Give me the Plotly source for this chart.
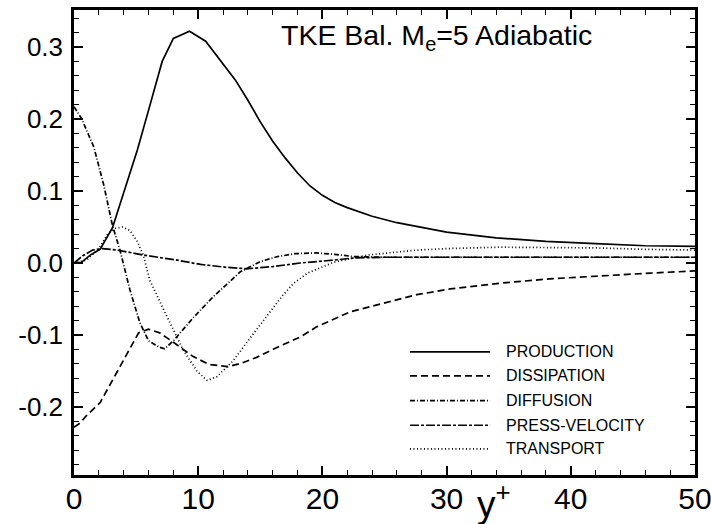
import plotly.graph_objects as go

# ---- data ----
prod_x = [0, 0.6, 1.3, 2.1, 3.1, 4.0, 5.1, 6.0, 7.1, 8.0, 9.3, 10.6, 12.0, 13.0, 14.0, 15.0,
          16.0, 17.0, 18.0, 19.0, 20.0, 21.0, 22.0, 24.0, 26.0, 28.0, 30.0, 34.0, 38.0, 42.0, 46.0, 50.0]
prod_y = [0.0, 0.001, 0.011, 0.019, 0.049, 0.097, 0.157, 0.212, 0.280, 0.312, 0.322, 0.308, 0.277,
          0.254, 0.226, 0.196, 0.169, 0.146, 0.125, 0.107, 0.094, 0.084, 0.077, 0.065, 0.056, 0.049,
          0.043, 0.035, 0.030, 0.027, 0.024, 0.023]

diss_x = [0, 0.5, 1.0, 2.1, 3.7, 5.2, 6.0, 6.9, 8.0, 9.6, 10.9, 12.4, 13.5, 14.7, 16.5, 18.3, 19.5,
          22.2, 24.9, 27.6, 30.3, 34.3, 38.3, 42.0, 46.4, 50.0]
diss_y = [-0.228, -0.222, -0.212, -0.194, -0.144, -0.097, -0.092, -0.097, -0.110, -0.130, -0.141,
          -0.144, -0.139, -0.131, -0.116, -0.102, -0.089, -0.068, -0.056, -0.044, -0.036, -0.028,
          -0.022, -0.018, -0.014, -0.011]

diff_x = [0, 0.6, 1.6, 2.4, 3.1, 3.7, 4.5, 5.3, 6.0, 6.9, 7.3, 8.0, 9.6, 11.2, 12.4, 13.4, 15.0,
          16.4, 17.8, 19.5, 21.0, 22.5, 25.0, 30.0, 35.0, 40.0, 45.0, 50.0]
diff_y = [0.217, 0.201, 0.161, 0.108, 0.052, 0.018, -0.037, -0.083, -0.108, -0.117, -0.119, -0.108,
          -0.076, -0.047, -0.028, -0.012, 0.002, 0.009, 0.013, 0.014, 0.012, 0.009, 0.008, 0.008,
          0.008, 0.008, 0.008, 0.008]

pv_x = [0, 0.7, 1.5, 2.3, 3.5, 5.6, 8.3, 10.2, 12.3, 13.9, 16.0, 18.2, 20.9, 22.5, 25.0, 30.0,
        35.0, 40.0, 45.0, 50.0]
pv_y = [0.0, 0.010, 0.018, 0.020, 0.018, 0.011, 0.004, -0.002, -0.006, -0.008, -0.005, 0.0, 0.004,
        0.007, 0.008, 0.008, 0.008, 0.008, 0.008, 0.008]

tr_x = [0, 1.0, 2.0, 2.7, 3.3, 3.9, 4.5, 5.1, 5.6, 6.1, 7.5, 8.8, 9.9, 10.7, 11.5, 12.8, 14.1,
        15.5, 16.8, 17.7, 18.8, 20.9, 23.6, 27.6, 30.0, 34.3, 38.0, 42.0, 46.0, 50.0]
tr_y = [0.0, 0.004, 0.020, 0.040, 0.048, 0.050, 0.045, 0.030, 0.010, -0.024, -0.075, -0.121, -0.150,
        -0.163, -0.158, -0.136, -0.106, -0.075, -0.045, -0.028, -0.014, 0.001, 0.011, 0.018, 0.020,
        0.022, 0.022, 0.021, 0.019, 0.018]

series_names = ["PRODUCTION", "DISSIPATION", "DIFFUSION", "PRESS-VELOCITY", "TRANSPORT"]
series_x = [prod_x, diss_x, diff_x, pv_x, tr_x]
series_y = [prod_y, diss_y, diff_y, pv_y, tr_y]
dashes = ["solid", "7px,4px", "5px,2px,1px,2px", "9px,2px,3px,2px", "1px,2.5px"]

y_tickvals = [-0.2, -0.1, 0.0, 0.1, 0.2, 0.3]
y_ticktext = ["-0.2", "-0.1", "0.0", "0.1", "0.2", "0.3"]
x_tickvals = [0, 10, 20, 30, 40, 50]
x_ticktext = ["0", "10", "20", "30", "40", "50"]

FONT = "Liberation Sans, Arial, Helvetica, sans-serif"

fig = go.Figure()
for name, xs, ys, d in zip(series_names, series_x, series_y, dashes):
    fig.add_trace(go.Scatter(x=xs, y=ys, mode="lines", name=name, showlegend=False,
                             line=dict(color="black", width=1.7, dash=d)))

# custom legend (long line samples, as in the reference)
leg_y = [0.265, 0.213, 0.160, 0.107, 0.056]
for name, d, ly in zip(series_names, dashes, leg_y):
    fig.add_shape(type="line", xref="paper", yref="paper", x0=0.541, x1=0.670, y0=ly, y1=ly,
                  line=dict(color="black", width=1.7, dash=d))
    fig.add_annotation(xref="paper", yref="paper", x=0.692, y=ly, text=name, showarrow=False,
                       xanchor="left", yanchor="middle", font=dict(family=FONT, size=16, color="black"))

fig.add_annotation(xref="paper", yref="paper", x=0.330, y=0.942,
                   text="TKE Bal. M<sub>e</sub>=5 Adiabatic", showarrow=False,
                   xanchor="left", yanchor="middle", font=dict(family=FONT, size=28.5, color="black"))
fig.add_annotation(xref="paper", yref="paper", x=0.676, y=-0.058,
                   text="y<sup>+</sup>", showarrow=False,
                   xanchor="center", yanchor="middle", font=dict(family=FONT, size=37, color="black"))

fig.update_layout(
    width=711, height=524,
    margin=dict(l=74, r=16, t=10, b=49),
    paper_bgcolor="white", plot_bgcolor="white",
    font=dict(family=FONT, color="black"),
)
fig.update_xaxes(range=[0, 50], tickmode="array", tickvals=x_tickvals, ticktext=x_ticktext,
                 ticks="inside", ticklen=9, tickwidth=1.5, tickcolor="black",
                 minor=dict(tickmode="linear", tick0=0, dtick=2, ticks="inside", ticklen=5,
                            tickwidth=1.2, tickcolor="black"),
                 showline=True, linecolor="black", linewidth=2.5, mirror="allticks",
                 showgrid=False, zeroline=False, tickfont=dict(size=30, family=FONT),
                 ticklabeloverflow="allow", ticklabelstandoff=-5, automargin=False)
fig.update_yaxes(range=[-0.2944, 0.3514], tickmode="array", tickvals=y_tickvals, ticktext=y_ticktext,
                 ticks="inside", ticklen=9, tickwidth=1.5, tickcolor="black",
                 minor=dict(tickmode="linear", tick0=0, dtick=0.02, ticks="inside", ticklen=5,
                            tickwidth=1.2, tickcolor="black"),
                 showline=True, linecolor="black", linewidth=2.5, mirror="allticks",
                 showgrid=False, zeroline=False, tickfont=dict(size=26, family=FONT),
                 ticklabelstandoff=3, automargin=False)

fig.write_html("out.html")
